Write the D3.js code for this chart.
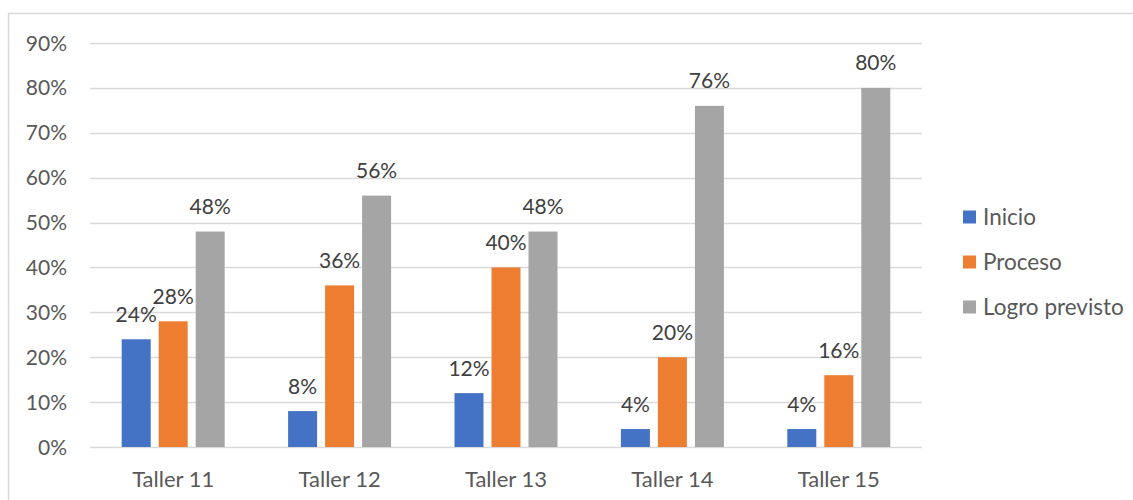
<!DOCTYPE html>
<html>
<head>
<meta charset="utf-8">
<script src="https://cdn.jsdelivr.net/npm/d3@7"></script>
<style>
  body { margin: 0; background: #fff; }
  svg text { font-family: Lato, "Open Sans", sans-serif; }
</style>
</head>
<body>
<svg id="chart" width="1133" height="500"></svg>
<script>
var categories = ["Taller 11", "Taller 12", "Taller 13", "Taller 14", "Taller 15"];
var seriesNames = ["Inicio", "Proceso", "Logro previsto"];
var inicio = [24, 8, 12, 4, 4];
var proceso = [28, 36, 40, 20, 16];
var logro = [48, 56, 48, 76, 80];
var yTicks = [0, 10, 20, 30, 40, 50, 60, 70, 80, 90];
var colors = ["#4472C4", "#ED7D31", "#A5A5A5"];

var svg = d3.select("#chart");
var series = [inicio, proceso, logro];

// chart area border
svg.append("rect")
  .attr("x", 8.5).attr("y", 13.5)
  .attr("width", 1200).attr("height", 600)
  .attr("fill", "none").attr("stroke", "#D9D9D9").attr("stroke-width", 1.5);

var x0 = d3.scaleBand().domain(categories).range([90, 922]).paddingInner(0).paddingOuter(0);
var y = d3.scaleLinear().domain([0, 90]).range([447, 43]);
var barW = 29, step = 37;

// gridlines
svg.append("g").selectAll("line").data(yTicks).enter().append("line")
  .attr("x1", 90).attr("x2", 922)
  .attr("y1", function(d) { return Math.round(y(d)) + 0.5; })
  .attr("y2", function(d) { return Math.round(y(d)) + 0.5; })
  .attr("stroke", "#D9D9D9").attr("stroke-width", 1.3);

// y axis labels
svg.append("g").selectAll("text").data(yTicks).enter().append("text")
  .attr("x", 67).attr("y", function(d) { return y(d); })
  .attr("dy", "0.36em")
  .attr("text-anchor", "end")
  .attr("font-size", 21).attr("fill", "#595959")
  .text(function(d) { return d + "%"; });

// bars
series.forEach(function(vals, si) {
  var g = svg.append("g");
  g.selectAll("rect").data(vals).enter().append("rect")
    .attr("x", function(d, i) { return x0(categories[i]) + x0.bandwidth() / 2 - barW / 2 + (si - 1) * step; })
    .attr("y", function(d) { return y(d); })
    .attr("width", barW)
    .attr("height", function(d) { return y(0) - y(d); })
    .attr("fill", colors[si]);
  g.selectAll("text").data(vals).enter().append("text")
    .attr("x", function(d, i) { return x0(categories[i]) + x0.bandwidth() / 2 + (si - 1) * step; })
    .attr("y", function(d) { return y(d) - 17.5; })
    .attr("text-anchor", "middle")
    .attr("font-size", 21).attr("fill", "#404040")
    .text(function(d) { return d + "%"; });
});

// category labels
svg.append("g").selectAll("text").data(categories).enter().append("text")
  .attr("x", function(d) { return x0(d) + x0.bandwidth() / 2; })
  .attr("y", 487)
  .attr("text-anchor", "middle")
  .attr("font-size", 22).attr("fill", "#595959")
  .text(function(d) { return d; });

// legend
var legend = svg.append("g").selectAll("g").data(seriesNames).enter().append("g")
  .attr("transform", function(d, i) { return "translate(963," + (217 + i * 45) + ")"; });
legend.append("rect")
  .attr("x", 0).attr("y", -6.5).attr("width", 13).attr("height", 13)
  .attr("fill", function(d, i) { return colors[i]; });
legend.append("text")
  .attr("x", 20).attr("y", 0).attr("dy", "0.36em")
  .attr("font-size", 22.5).attr("fill", "#595959")
  .text(function(d) { return d; });
</script>
</body>
</html>
